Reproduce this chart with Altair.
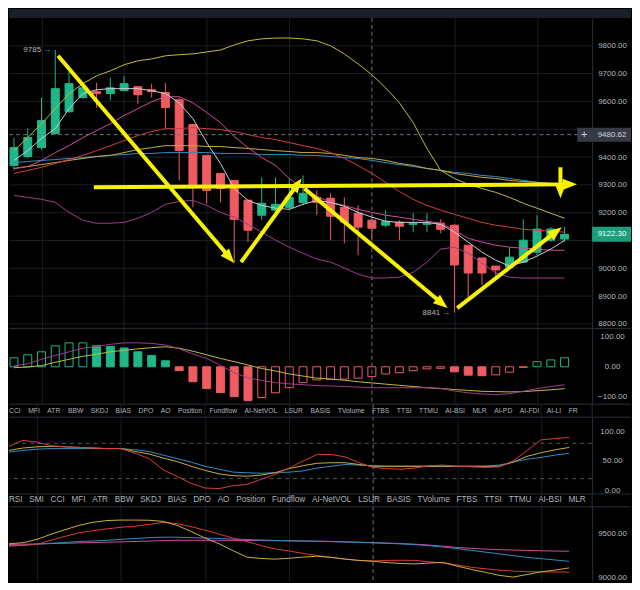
import math
import altair as alt
import pandas as pd

# ---------------- data ----------------
idx = list(range(41))
opens  = [9370, 9402, 9434, 9485, 9563, 9614, 9635, 9628, 9639, 9653, 9642, 9632, 9606, 9517, 9406, 9341, 9316, 9245, 9191, 9209, 9219, 9237, 9255, 9252, 9219, 9198, 9173, 9155, 9166, 9158, 9158, 9162, 9155, 9083, 9037, 9008, 9004, 9022, 9058, 9101, 9105]
closes = [9434, 9470, 9531, 9646, 9664, 9649, 9628, 9649, 9664, 9624, 9635, 9578, 9424, 9298, 9280, 9287, 9176, 9137, 9234, 9230, 9255, 9270, 9237, 9187, 9166, 9148, 9144, 9169, 9151, 9162, 9162, 9140, 9012, 8983, 8983, 8994, 9040, 9101, 9141, 9141, 9122.3]
highs  = [9470, 9503, 9614, 9785, 9710, 9667, 9667, 9685, 9692, 9653, 9664, 9667, 9614, 9517, 9406, 9341, 9316, 9245, 9327, 9327, 9323, 9334, 9280, 9270, 9255, 9227, 9191, 9209, 9173, 9198, 9198, 9176, 9158, 9083, 9037, 9008, 9076, 9176, 9191, 9148, 9148]
lows   = [9352, 9395, 9427, 9481, 9560, 9610, 9578, 9603, 9639, 9592, 9614, 9503, 9316, 9219, 9234, 9237, 9019, 9094, 9173, 9201, 9209, 9227, 9191, 9101, 9090, 9047, 9101, 9148, 9101, 9130, 9130, 9126, 8841, 8897, 8940, 8968, 8994, 9019, 9047, 9094, 9094]

ema_fast = [9388, 9423, 9467, 9502, 9574, 9628, 9642, 9646, 9646, 9646, 9639, 9628, 9595, 9538, 9452, 9377, 9287, 9244, 9226, 9216, 9212, 9230, 9244, 9237, 9223, 9201, 9184, 9169, 9165, 9165, 9165, 9158, 9130, 9094, 9058, 9029, 9008, 9022, 9044, 9069, 9101]
ma_mid   = [9359, 9366, 9388, 9416, 9441, 9470, 9495, 9520, 9549, 9574, 9599, 9617, 9617, 9595, 9560, 9524, 9474, 9434, 9398, 9370, 9323, 9287, 9259, 9237, 9226, 9212, 9201, 9191, 9184, 9176, 9169, 9162, 9137, 9108, 9094, 9083, 9076, 9072, 9069, 9065, 9065]
bb_upper = [9423, 9470, 9520, 9574, 9628, 9664, 9692, 9710, 9732, 9746, 9753, 9764, 9768, 9771, 9778, 9785, 9803, 9818, 9825, 9828, 9828, 9825, 9818, 9800, 9771, 9735, 9696, 9649, 9595, 9524, 9431, 9352, 9323, 9302, 9287, 9273, 9255, 9234, 9216, 9198, 9180]
bb_lower = [9262, 9255, 9248, 9237, 9201, 9173, 9162, 9162, 9165, 9180, 9201, 9230, 9241, 9244, 9226, 9201, 9184, 9158, 9130, 9101, 9076, 9054, 9033, 9022, 9001, 8979, 8965, 8965, 8968, 8986, 9022, 9069, 9076, 9054, 9019, 8983, 8968, 8965, 8965, 8965, 8965]
ma_red   = [9341, 9352, 9363, 9377, 9391, 9406, 9423, 9441, 9459, 9477, 9492, 9502, 9502, 9506, 9502, 9499, 9492, 9481, 9470, 9463, 9452, 9441, 9431, 9416, 9395, 9370, 9341, 9309, 9276, 9248, 9226, 9209, 9194, 9180, 9165, 9155, 9148, 9140, 9137, 9133, 9130]
ma_yellow= [9359, 9366, 9373, 9380, 9388, 9395, 9402, 9406, 9416, 9427, 9434, 9441, 9441, 9441, 9438, 9438, 9434, 9431, 9427, 9423, 9420, 9416, 9416, 9413, 9406, 9398, 9395, 9388, 9377, 9370, 9359, 9352, 9341, 9334, 9327, 9323, 9316, 9312, 9309, 9305, 9302]
ma_blue  = [9380, 9384, 9388, 9391, 9395, 9398, 9402, 9406, 9409, 9413, 9413, 9416, 9416, 9416, 9416, 9413, 9413, 9413, 9409, 9409, 9409, 9406, 9406, 9402, 9398, 9395, 9388, 9380, 9373, 9366, 9359, 9352, 9345, 9341, 9334, 9330, 9323, 9316, 9309, 9305, 9302]

macd_hist = [30, 40, 50, 70, 80, 80, 70, 68, 63, 50, 38, 20, -13, -50, -73, -86, -100, -113, -103, -87, -70, -53, -44, -42, -41, -38, -33, -24, -20, -13, -7, -5, -17, -28, -30, -27, -18, -2, 17, 23, 30]
macd_line = [3, 10, 25, 38, 50, 62, 68, 75, 80, 80, 78, 73, 60, 43, 28, 5, -20, -37, -46, -53, -57, -60, -63, -64, -66, -68, -70, -70, -70, -70, -70, -72, -81, -87, -91, -93, -90, -82, -73, -66, -60]
macd_signal = [-3, -1, 4, 15, 25, 35, 42, 50, 55, 60, 64, 67, 62, 52, 40, 28, 17, 6, -6, -14, -24, -31, -38, -41, -45, -50, -54, -58, -62, -66, -70, -73, -76, -79, -82, -83, -84, -83, -80, -77, -73]

osc_pink   = [75, 85, 82, 76, 74, 73, 72, 71, 71, 63, 54, 35, 24, 12, 4, 3, 8, 10, 19, 27, 38, 50, 61, 61, 57, 47, 39, 37, 36, 38, 42, 43, 41, 40, 39, 40, 50, 68, 86, 88, 90]
osc_gray   = [68, 72, 74, 75, 74, 73, 72, 71, 71, 66, 62, 55, 49, 41, 34, 28, 25, 24, 26, 30, 37, 42, 46, 47, 47, 44, 41, 41, 41, 41, 41, 41, 41, 41, 41, 41, 48, 58, 64, 69, 73]
osc_yellow = [65, 68, 70, 71, 71, 71, 71, 71, 71, 69, 66, 60, 54, 48, 41, 36, 31, 30, 29, 30, 31, 33, 38, 41, 44, 43, 42, 41, 41, 41, 41, 41, 41, 41, 41, 43, 48, 53, 56, 60, 63]
osc_levels = [80, 20]

p3_gray   = [9380, 9392, 9430, 9489, 9540, 9590, 9625, 9645, 9650, 9650, 9648, 9635, 9590, 9520, 9445, 9380, 9300, 9227, 9212, 9205, 9215, 9228, 9238, 9225, 9205, 9190, 9180, 9165, 9155, 9150, 9160, 9168, 9125, 9088, 9055, 9020, 9000, 9030, 9060, 9080, 9105]
p3_pink   = [9355, 9362, 9375, 9420, 9465, 9505, 9530, 9550, 9568, 9580, 9600, 9623, 9610, 9575, 9535, 9490, 9445, 9405, 9360, 9320, 9298, 9270, 9245, 9225, 9205, 9190, 9185, 9190, 9192, 9190, 9175, 9160, 9138, 9112, 9095, 9080, 9068, 9062, 9060, 9058, 9057]
p3_yellow = [9355, 9363, 9375, 9385, 9395, 9405, 9412, 9420, 9430, 9440, 9450, 9455, 9455, 9450, 9445, 9440, 9433, 9428, 9422, 9418, 9414, 9411, 9409, 9405, 9400, 9395, 9390, 9385, 9378, 9370, 9358, 9343, 9325, 9305, 9285, 9265, 9245, 9225, 9210, 9195, 9180]
p3_blue   = [9372, 9375, 9378, 9382, 9386, 9390, 9394, 9398, 9402, 9406, 9410, 9416, 9420, 9420, 9420, 9419, 9418, 9417, 9416, 9415, 9413, 9411, 9409, 9406, 9402, 9398, 9393, 9388, 9382, 9375, 9365, 9352, 9338, 9328, 9320, 9313, 9308, 9304, 9300, 9297, 9295]

# hand-drawn yellow arrows (start bar, start price, end bar, end price)
arrow_i0 = [3.2, 16.5, 21.1, 32.2, 5.8, 39.7]
arrow_p0 = [9764, 9022, 9287, 8857, 9291, 9363]
arrow_i1 = [16.0, 20.9, 31.5, 39.8, 40.9, 39.7]
arrow_p1 = [9019, 9323, 8857, 9148, 9302, 9252]

crosshair_bar = 26
crosshair_price = 9480.62
main_ticks = [8800, 8900, 9000, 9200, 9300, 9400, 9600, 9700, 9800]  # 9500/9100 sit under the price tags

indicator_names = ["StochRSI", "SMI", "CCI", "MFI", "ATR", "BBW", "SKDJ", "BIAS", "DPO", "AO",
                   "Position", "Fundflow", "AI-NetVOL", "LSUR", "BASIS", "TVolume", "FTBS", "TTSI",
                   "TTMU", "AI-BSI", "MLR", "AI-PD", "AI-FDI", "AI-LI", "FR"]
tabs_row1 = indicator_names[2:]
tabs_row2 = indicator_names[:21]

# ---------------- style ----------------
FONT = "Liberation Sans"
BG = "#000000"
BAND = "#1b1f2b"
GRID = "#1b1e26"
SEP = "#2a2e39"
LAB = "#b2b5be"
CROSS = "#6f727d"
UP = "#1fb68a"
DN = "#ef5b61"
ARROW = "#f7f300"

W = 585
H_BAND, H_MAIN, H_MACD, H_ROW, H_OSC, H_P3 = 9, 311, 76, 13, 77, 75
XDOM = [0, 41.64]
MAIN_DOM = [8785.7, 9900.4]
MACD_DOM = [-123.3, 130]
OSC_DOM = [-5.1, 125.4]
P3_DOM = [8954.5, 9806.8]
GRID_BARS = [2, 8, 14, 20, 32, 38]

xs = alt.Scale(domain=XDOM, nice=False, zero=False)
xgrid = alt.Axis(values=GRID_BARS, grid=True, gridColor=GRID, gridWidth=1, labels=False,
                 ticks=False, domain=False, title=None, zindex=0)


def X(f):
    return alt.X(f"{f}:Q", scale=xs, axis=xgrid)


def yaxis(values):
    return alt.Axis(orient="right", values=values, format=".2f", grid=False,
                    ticks=False, tickSize=0, domain=True, domainColor=SEP, labelAlign="center",
                    labelBaseline="middle", labelPadding=20, labelFontSize=8, labelColor=LAB,
                    labelFont=FONT, title=None, zindex=0)


ys_main = alt.Scale(domain=MAIN_DOM, nice=False, zero=False)
ax_main = yaxis(main_ticks)
ys_macd = alt.Scale(domain=MACD_DOM, nice=False, zero=False)
ax_macd = yaxis([-100, 0, 100])
ys_osc = alt.Scale(domain=OSC_DOM, nice=False, zero=False)
ax_osc = yaxis([0, 50, 100])
ys_p3 = alt.Scale(domain=P3_DOM, nice=False, zero=False)
ax_p3 = yaxis([9000, 9500])


def Ym(f):
    return alt.Y(f"{f}:Q", scale=ys_main, axis=ax_main)


one = pd.DataFrame({"k": [0]})


def top_sep():
    return alt.Chart(one).mark_rule(color=SEP, strokeWidth=1).encode(
        x=alt.value(0), x2=alt.value(W + 39), y=alt.value(0.5))


def vcross():
    return alt.Chart(pd.DataFrame({"i": [crosshair_bar]})).mark_rule(
        color=CROSS, strokeDash=[4, 3], strokeWidth=1).encode(x=alt.X("i:Q", scale=xs, axis=xgrid))


def long_df(series):
    rows = []
    for name, vals in series:
        for i, v in zip(idx, vals):
            rows.append({"i": i, "v": v, "s": name})
    return pd.DataFrame(rows)


# ---------------- main price pane ----------------
candles = pd.DataFrame({"i": idx, "o": opens, "h": highs, "l": lows, "c": closes})
dir_col = alt.condition("datum.c >= datum.o", alt.value(UP), alt.value(DN))

# horizontal price grid (every 100)
hgrid = alt.Chart(pd.DataFrame({"p": list(range(8800, 9801, 100))})).mark_rule(
    color=GRID, strokeWidth=1).encode(y=Ym("p"))

wicks = alt.Chart(candles).mark_rule(strokeWidth=1, clip=True).encode(
    x=X("i"), y=Ym("l"), y2="h:Q", color=dir_col)
bodies = alt.Chart(candles).mark_bar(size=8, strokeWidth=1, clip=True).encode(
    x=X("i"), y=Ym("o"), y2="c:Q", fill=dir_col, stroke=dir_col)

main_series = [("bbu", bb_upper), ("bbl", bb_lower), ("blu", ma_blue), ("ylw", ma_yellow),
               ("red", ma_red), ("mid", ma_mid), ("fast", ema_fast)]
main_colors = ["#c2bc3a", "#a13b8e", "#2b8fc4", "#c9ae3c", "#d63b3b", "#d04a9e", "#c9ccd3"]
mlines = alt.Chart(long_df(main_series)).mark_line(strokeWidth=1, clip=True).encode(
    x=X("i"), y=Ym("v"),
    color=alt.Color("s:N", scale=alt.Scale(domain=[n for n, _ in main_series], range=main_colors), legend=None))

hcross = alt.Chart(pd.DataFrame({"p": [crosshair_price]})).mark_rule(
    color=CROSS, strokeDash=[4, 3], strokeWidth=1).encode(y=Ym("p"))

# arrows: direction computed in pixel space from the scales' sizes
px_i = W / (XDOM[1] - XDOM[0])
px_p = H_MAIN / (MAIN_DOM[1] - MAIN_DOM[0])
head_r = 9
head_len = 1.6 * head_r
arows = []
for a, b, c, d in zip(arrow_i0, arrow_p0, arrow_i1, arrow_p1):
    dx = (c - a) * px_i
    dy = (d - b) * px_p
    L = math.hypot(dx, dy)
    f = max(0.0, (L - head_len * 0.8) / L)
    ang = math.degrees(math.atan2(dx, dy)) % 360
    arows.append({"i0": a, "p0": b, "ie": a + (c - a) * f, "pe": b + (d - b) * f,
                  "i1": c, "p1": d, "ang": ang})
arrows = pd.DataFrame(arows)
HEAD = "M0,0L0.62,1.6L-0.62,1.6Z"
shafts = alt.Chart(arrows).mark_rule(strokeWidth=4, color=ARROW, clip=True).encode(
    x=X("i0"), x2="ie:Q", y=Ym("p0"), y2="pe:Q")
heads = alt.Chart(arrows).mark_point(shape=HEAD, filled=True, size=(2 * head_r) ** 2, color=ARROW,
                                     opacity=1, strokeWidth=0, clip=True).encode(
    x=X("i1"), y=Ym("p1"), angle=alt.Angle("ang:Q", scale=None))

hi_i = max(idx, key=lambda k: highs[k])
lo_i = min(idx, key=lambda k: lows[k])
ann = pd.DataFrame({"i": [hi_i, lo_i], "p": [highs[hi_i], lows[lo_i]],
                    "t": [f"{highs[hi_i]:.0f} \u2192", f"{lows[lo_i]:.0f} \u2192"]})
ann_text = alt.Chart(ann).mark_text(align="right", baseline="middle", dx=-4, fontSize=8,
                                    color=LAB, font=FONT).encode(x=X("i"), y=Ym("p"), text="t:N")

cross_tag = pd.DataFrame({"p": [crosshair_price], "t": [f"{crosshair_price:.2f}"]})
last_tag = pd.DataFrame({"p": [closes[-1]], "t": [f"{closes[-1]:.2f}"]})
BOX1 = "M-1,-0.26L1,-0.26L1,0.26L-1,0.26Z"
BOX2 = "M-1,-0.385L1,-0.385L1,0.385L-1,0.385Z"
box1 = alt.Chart(cross_tag).mark_point(shape=BOX1, filled=True, size=54 ** 2, color="#363a45",
                                       opacity=1, strokeWidth=0).encode(x=alt.value(W + 12), y=Ym("p"))
plus = alt.Chart(cross_tag).mark_text(text="+", fontSize=11, color="#d1d4dc", baseline="middle",
                                      align="center", font=FONT).encode(x=alt.value(W - 8), y=Ym("p"))
box1_t = alt.Chart(cross_tag).mark_text(fontSize=8, color="#d1d4dc", baseline="middle",
                                        align="center", font=FONT).encode(
    x=alt.value(W + 20), y=Ym("p"), text="t:N")
box2 = alt.Chart(last_tag).mark_point(shape=BOX2, filled=True, size=39 ** 2, color="#1c9e7c",
                                      opacity=1, strokeWidth=0).encode(x=alt.value(W + 19.5), y=Ym("p"))
box2_t = alt.Chart(last_tag).mark_text(fontSize=8, color="#ffffff", baseline="middle",
                                       align="center", font=FONT).encode(
    x=alt.value(W + 20), y=Ym("p"), text="t:N")

main = alt.layer(hgrid, wicks, bodies, mlines, hcross, vcross(), shafts, heads, ann_text,
                 box1, plus, box1_t, box2, box2_t).properties(width=W, height=H_MAIN)

# ---------------- MACD pane ----------------
prev = [None] + macd_hist[:-1]
mrows = []
for i, v, pv in zip(idx, macd_hist, prev):
    d = "up" if v >= 0 else "dn"
    filled = pv is not None and v < pv
    mrows.append({"i": i, "v": v, "z": 0, "dir": d, "key": d + ("_f" if filled else "_h")})
mdf = pd.DataFrame(mrows)
hist = alt.Chart(mdf).mark_bar(size=8, strokeWidth=1, clip=True).encode(
    x=X("i"), y=alt.Y("v:Q", scale=ys_macd, axis=ax_macd), y2="z:Q",
    fill=alt.Fill("key:N", scale=alt.Scale(domain=["up_f", "up_h", "dn_f", "dn_h"],
                                           range=[UP, "transparent", DN, "transparent"]), legend=None),
    stroke=alt.Stroke("dir:N", scale=alt.Scale(domain=["up", "dn"], range=[UP, DN]), legend=None))
macd_series = [("signal", macd_signal), ("macd", macd_line)]
macd_lines = alt.Chart(long_df(macd_series)).mark_line(strokeWidth=1, clip=True).encode(
    x=X("i"), y=alt.Y("v:Q", scale=ys_macd, axis=ax_macd),
    color=alt.Color("s:N", scale=alt.Scale(domain=["signal", "macd"], range=["#c9c530", "#c4c7cf"]), legend=None))
macd = alt.layer(hist, macd_lines, vcross(), top_sep()).properties(width=W, height=H_MACD)


# ---------------- tab label rows ----------------
def tab_row(names, size, gap, x0):
    txt = ("\u00a0" * gap).join(names)
    grid = alt.Chart(pd.DataFrame({"g": GRID_BARS})).mark_rule(color=GRID).encode(
        x=alt.X("g:Q", scale=xs, axis=None))
    cr = alt.Chart(pd.DataFrame({"g": [crosshair_bar]})).mark_rule(
        color=CROSS, strokeDash=[4, 3]).encode(x=alt.X("g:Q", scale=xs, axis=None))
    t = alt.Chart(pd.DataFrame({"t": [txt]})).mark_text(
        align="left", baseline="middle", fontSize=size, color=LAB, font=FONT, clip=True).encode(
        x=alt.value(x0), y=alt.value(H_ROW / 2 + 0.5), text="t:N")
    edge = alt.Chart(one).mark_rule(color=SEP).encode(x=alt.value(W))
    return alt.layer(grid, cr, t, edge, top_sep()).properties(width=W, height=H_ROW)


row1 = tab_row(tabs_row1, 6.8, 4, 0)
row2 = tab_row(tabs_row2, 8.2, 3, -21)

# ---------------- oscillator pane ----------------
osc_series = [("yellow", osc_yellow), ("gray", osc_gray), ("pink", osc_pink)]
osc_lines = alt.Chart(long_df(osc_series)).mark_line(strokeWidth=1, clip=True).encode(
    x=X("i"), y=alt.Y("v:Q", scale=ys_osc, axis=ax_osc),
    color=alt.Color("s:N", scale=alt.Scale(domain=["yellow", "gray", "pink"],
                                           range=["#cfcb3c", "#b9bdc9", "#d64aa0"]), legend=None))
osc_lv = alt.Chart(pd.DataFrame({"lv": osc_levels})).mark_rule(
    color="#50535e", strokeDash=[4, 4], strokeWidth=1).encode(y=alt.Y("lv:Q", scale=ys_osc, axis=ax_osc))
osc = alt.layer(osc_lv, osc_lines, vcross(), top_sep()).properties(width=W, height=H_OSC)

# ---------------- bottom pane ----------------
p3_series = [("blue", p3_blue), ("yellow", p3_yellow), ("pink", p3_pink), ("gray", p3_gray)]
p3_lines = alt.Chart(long_df(p3_series)).mark_line(strokeWidth=1, clip=True).encode(
    x=X("i"), y=alt.Y("v:Q", scale=ys_p3, axis=ax_p3),
    color=alt.Color("s:N", scale=alt.Scale(domain=["blue", "yellow", "pink", "gray"],
                                           range=["#2b8fc4", "#c9ae3c", "#d04a9e", "#c9ccd3"]), legend=None))
p3 = alt.layer(p3_lines, vcross(), top_sep()).properties(width=W, height=H_P3)

band = alt.Chart(one).mark_rect(color=BAND).encode(
    x=alt.value(0), x2=alt.value(W + 39), y=alt.value(0), y2=alt.value(H_BAND)
).properties(width=W, height=H_BAND)

chart = alt.vconcat(band, main, macd, row1, osc, row2, p3, spacing=0, bounds="flush").properties(
    padding=0, background=BG).configure_view(stroke=None)

chart.save("out.html", embed_options={"renderer": "svg", "actions": False})
